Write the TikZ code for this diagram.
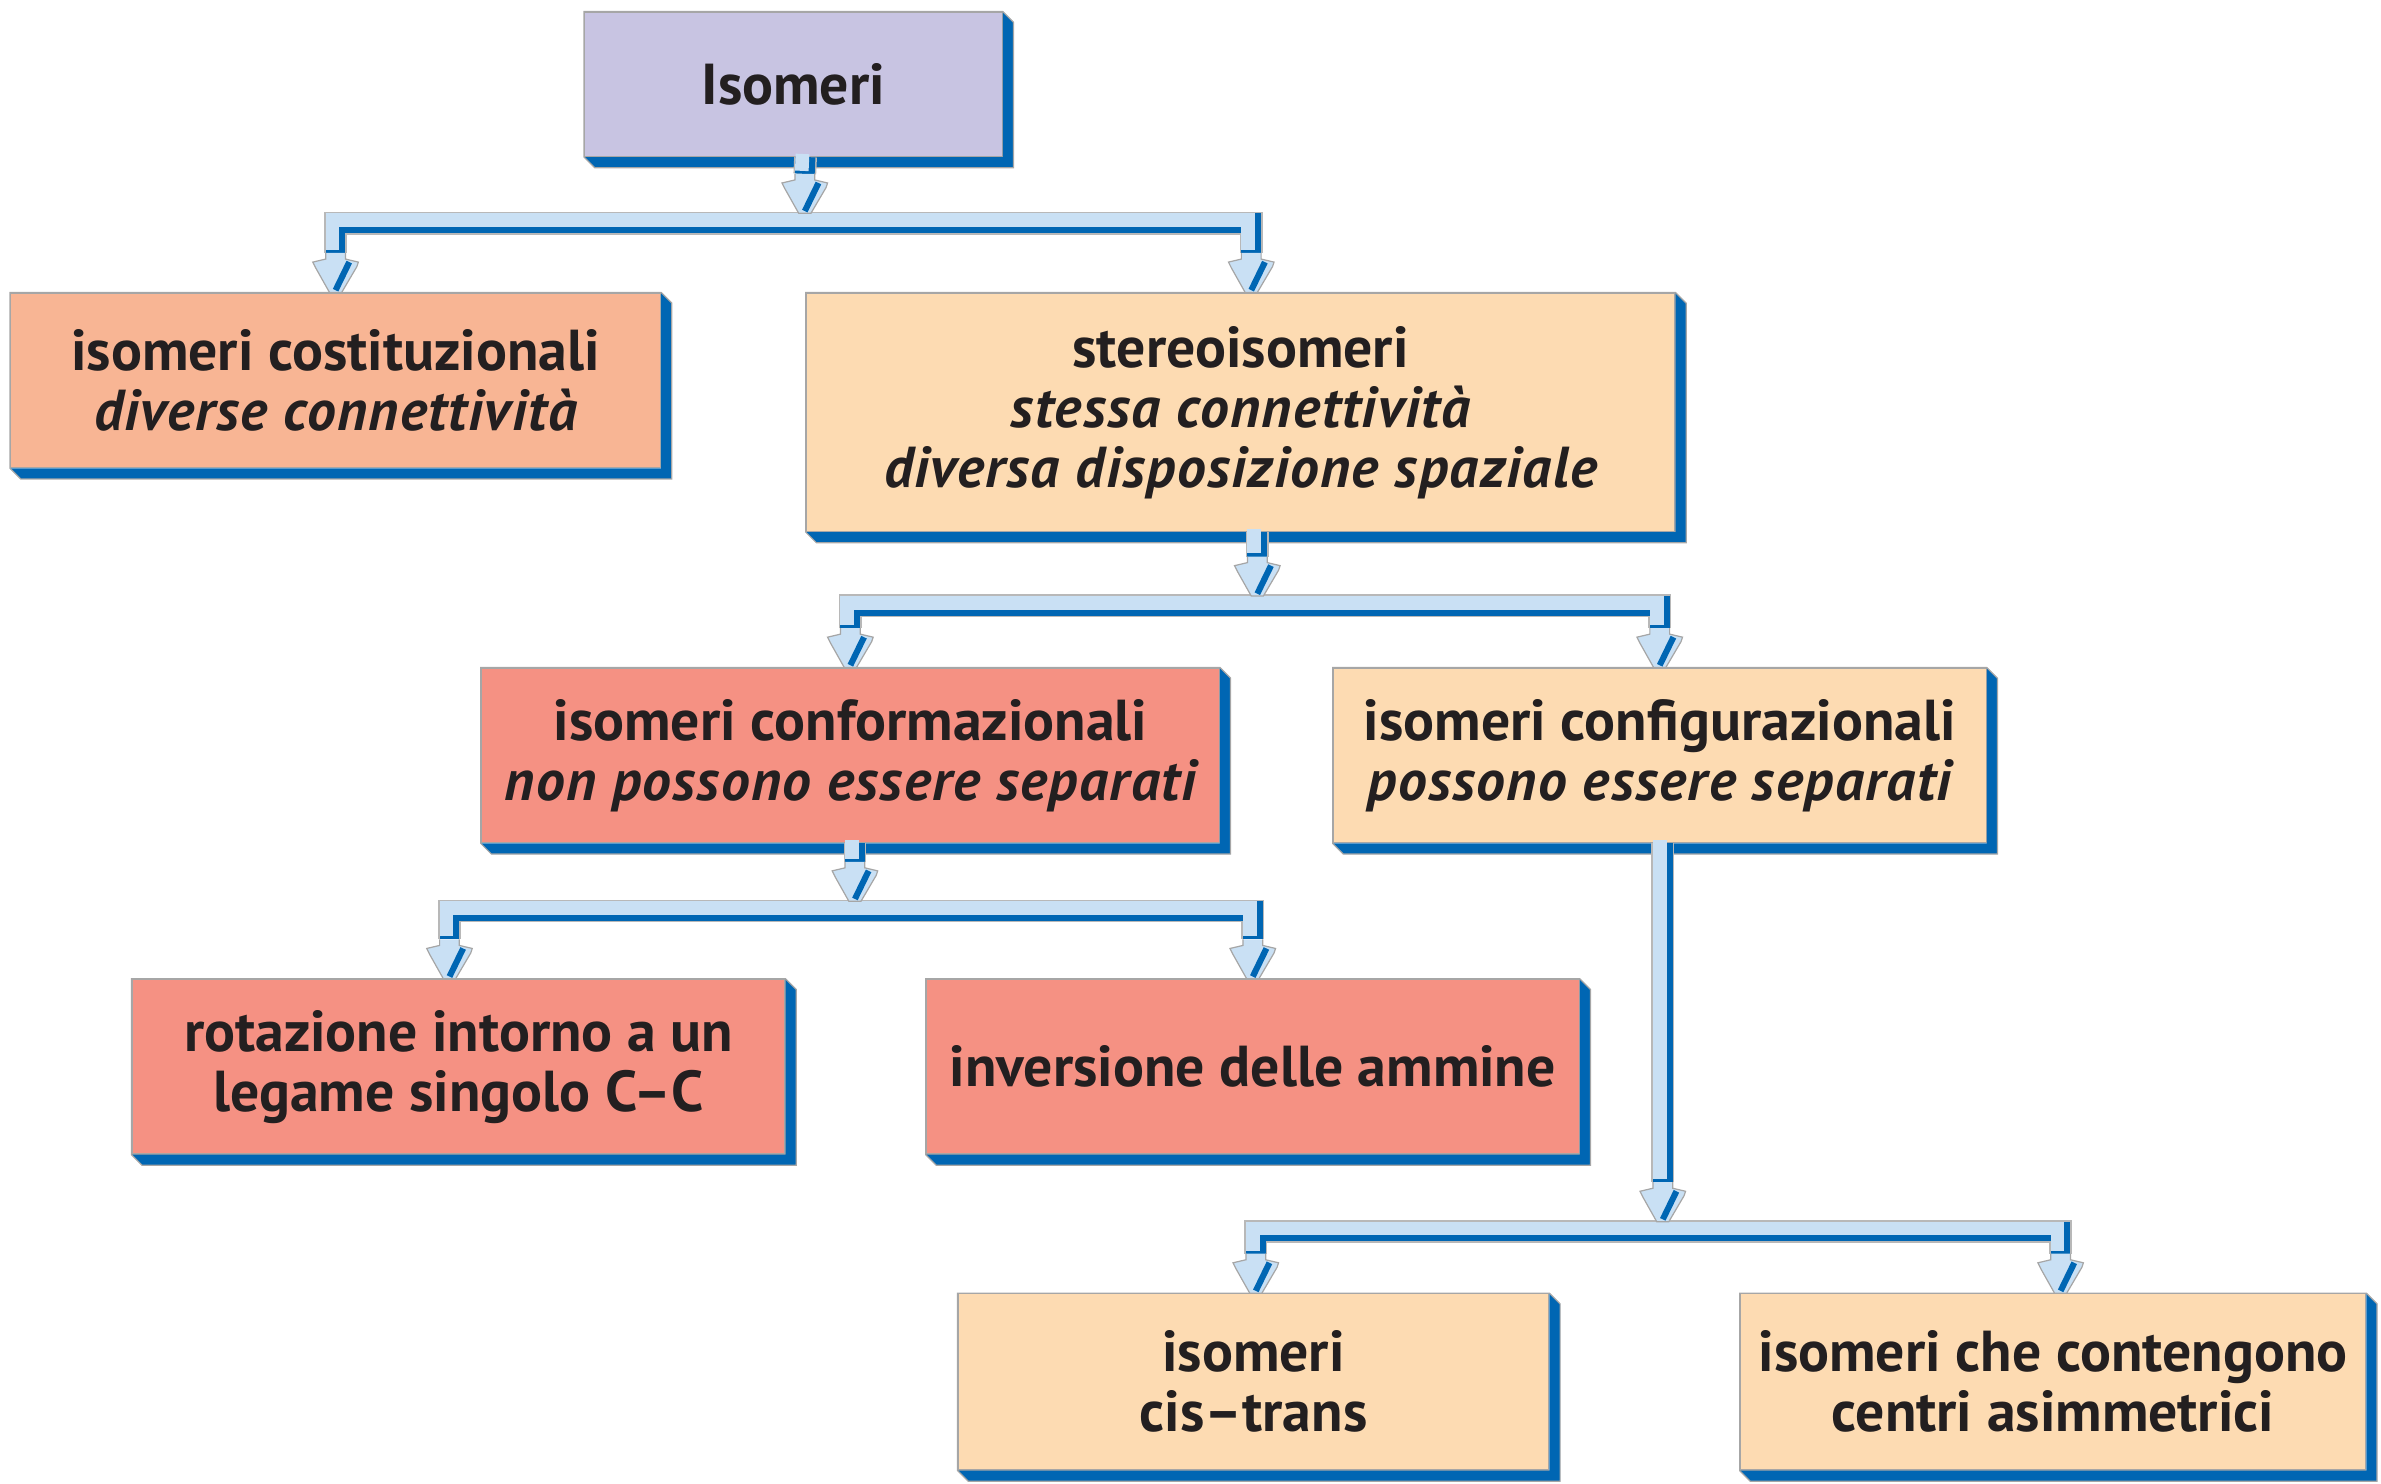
\documentclass[tikz,border=0pt]{standalone}
\usepackage{fontspec}
\setmainfont{PT Sans}[BoldItalicFeatures={LetterSpace=2.4}]
\definecolor{dkblue}{HTML}{0066B3}
\definecolor{ltblue}{HTML}{C9E0F4}
\definecolor{outl}{HTML}{A6A6A6}
\definecolor{lav}{HTML}{C8C4E2}
\definecolor{orng}{HTML}{F8B594}
\definecolor{peach}{HTML}{FDDBB2}
\definecolor{salmon}{HTML}{F59183}
\definecolor{txt}{HTML}{231F20}
\tikzset{
  box/.style={rectangle, draw=outl, line width=0.8pt, inner sep=0pt, align=center,
    text=txt, font=\fontsize{38}{39.5}\selectfont\bfseries},
}
\newcommand\shad[1]{%
  \fill[dkblue] (#1.north east) -- ++(7,7) -- ([shift={(7,7)}]#1.south east)
     -- ([shift={(7,7)}]#1.south west) -- (#1.south west) -- (#1.south east) -- cycle;
  \draw[outl, line width=0.8pt] (#1.north west) -- (#1.north east) -- ++(7,7)
     -- ([shift={(7,7)}]#1.south east) -- ([shift={(7,7)}]#1.south west)
     -- (#1.south west) -- cycle;}
\newcommand\conn[1]{%
  \draw[line width=15pt, outl!80, line join=miter] #1;
  \draw[line width=13pt, dkblue, line join=miter] #1;
  \draw[line width=9pt, ltblue, line join=miter, transform canvas={shift={(-2,-2)}}] #1;}
\newcommand\arrtip[1]{%
  \begin{scope}[shift={(#1)}]
    \filldraw[fill=ltblue, draw=outl, line width=0.8pt]
      (-6.5,-26) -- (-6.5,-22) -- (-15,-20) -- (-13,-16) -- (-4,0) -- (4,0)
      -- (14,-17) -- (15,-20) -- (6.5,-22) -- (6.5,-26);
    \draw[dkblue, line width=4pt] (0,-1.5) -- (9,-20);
  \end{scope}}
\begin{document}
\begin{tikzpicture}[x=1pt,y=-1pt]
\useasboundingbox (0,0) rectangle (1568,977);
% nodes
\node[box, fill=lav, minimum width=275pt, minimum height=95pt] (A) at (522.5,55.5) {Isomeri};
\node[box, fill=orng, minimum width=428pt, minimum height=115pt] (B) at (221,250.5)
  {isomeri costituzionali\\ \itshape diverse connettività};
\node[box, fill=peach, minimum width=572pt, minimum height=157pt] (C) at (817,271.5)
  {stereoisomeri\\ \itshape stessa connettività\\ \itshape diversa disposizione spaziale};
\node[box, fill=salmon, minimum width=486pt, minimum height=115pt] (D) at (560,497.5)
  {isomeri conformazionali\\ \itshape non possono essere separati};
\node[box, fill=peach, minimum width=430pt, minimum height=115pt] (E) at (1093,497.5)
  {isomeri configurazionali\\ \itshape possono essere separati};
\node[box, fill=salmon, minimum width=430pt, minimum height=115pt] (F) at (302,702.5)
  {rotazione intorno a un\\ legame singolo C–C};
\node[box, fill=salmon, minimum width=430pt, minimum height=115pt] (G) at (825,702.5)
  {inversione delle ammine};
\node[box, fill=peach, minimum width=389pt, minimum height=116pt] (H) at (825.5,910)
  {isomeri\\ cis–trans};
\node[box, fill=peach, minimum width=412pt, minimum height=116pt] (I) at (1352,910)
  {isomeri che contengono\\ centri asimmetrici};
% shadows
\shad{A}\shad{B}\shad{C}\shad{D}\shad{E}\shad{F}\shad{G}\shad{H}\shad{I}
% bar coordinates
\coordinate (b1) at (530,147);
\coordinate (b2) at (828,399);
\coordinate (b3) at (563,600);
\coordinate (b4) at (1095,811);
% connectors
\conn{([xshift=8pt]A.south) -- ([yshift=32.5pt]b1)}
\conn{([yshift=26pt]B.north) |- (b1) -| ([xshift=7pt,yshift=26pt]C.north)}
\conn{([xshift=11pt]C.south) -- ([yshift=32.5pt]b2)}
\conn{([yshift=26pt]D.north) |- (b2) -| ([yshift=26pt]E.north)}
\conn{([xshift=3pt]D.south) -- ([yshift=32.5pt]b3)}
\conn{([xshift=-6pt,yshift=26pt]F.north) |- (b3) -| ([yshift=26pt]G.north)}
\conn{([xshift=2pt]E.south) -- ([yshift=32.5pt]b4)}
\conn{([xshift=1.5pt,yshift=26pt]H.north) |- (b4) -| ([xshift=5pt,yshift=26pt]I.north)}
% arrow tips
\arrtip{[yshift=6.5pt]b1}
\arrtip{[yshift=6.5pt]b2}
\arrtip{[yshift=6.5pt]b3}
\arrtip{[yshift=6.5pt]b4}
\arrtip{B.north}
\arrtip{[xshift=7pt]C.north}
\arrtip{D.north}
\arrtip{E.north}
\arrtip{[xshift=-6pt]F.north}
\arrtip{G.north}
\arrtip{[xshift=1.5pt]H.north}
\arrtip{[xshift=5pt]I.north}
\end{tikzpicture}
\end{document}
